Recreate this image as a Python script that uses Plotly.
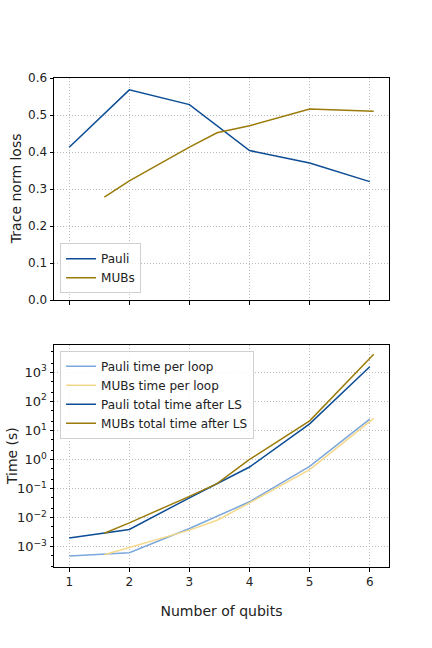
import plotly.graph_objects as go
from plotly.subplots import make_subplots

# x = log2(dimension)
pauli_x = [1, 1.585, 2, 3, 3.459, 4, 5, 6]
mubs_x = [1.585, 2, 3, 3.459, 4, 5, 6.066]

pauli_loss = [0.413, 0.504, 0.568, 0.528, 0.472, 0.404, 0.370, 0.320]
mubs_loss = [0.278, 0.322, 0.413, 0.452, 0.471, 0.516, 0.510]

pauli_loop = [4.8e-4, 5.5e-4, 6.2e-4, 4.2e-3, 1.12e-2, 3.5e-2, 0.58, 24.5]
mubs_loop = [5.3e-4, 9.3e-4, 3.7e-3, 8.1e-3, 3.2e-2, 0.45, 26]
pauli_total = [1.97e-3, 2.9e-3, 3.9e-3, 4.8e-2, 0.145, 0.55, 16.9, 1550]
mubs_total = [2.9e-3, 6.6e-3, 5.4e-2, 0.148, 1.0, 21.4, 4200]

time_tickvals = [1e-3, 1e-2, 1e-1, 1, 10, 100, 1000]
time_ticktext = ["10<sup>−3</sup>", "10<sup>−2</sup>", "10<sup>−1</sup>", "10<sup>0</sup>",
                 "10<sup>1</sup>", "10<sup>2</sup>", "10<sup>3</sup>"]

C_PAULI = "#0b4c94"
C_MUBS = "#9a7b0a"
C_PAULI_L = "#7ba7dc"
C_MUBS_L = "#f4d88a"

fig = make_subplots(rows=2, cols=1, shared_xaxes=False, vertical_spacing=0.092)

fig.add_trace(go.Scatter(x=pauli_x, y=pauli_loss, mode="lines", name="Pauli",
                         line=dict(color=C_PAULI, width=1.5)), row=1, col=1)
fig.add_trace(go.Scatter(x=mubs_x, y=mubs_loss, mode="lines", name="MUBs",
                         line=dict(color=C_MUBS, width=1.5)), row=1, col=1)

fig.add_trace(go.Scatter(x=pauli_x, y=pauli_loop, mode="lines", name="Pauli time per loop",
                         line=dict(color=C_PAULI_L, width=1.5), legend="legend2"), row=2, col=1)
fig.add_trace(go.Scatter(x=mubs_x, y=mubs_loop, mode="lines", name="MUBs time per loop",
                         line=dict(color=C_MUBS_L, width=1.5), legend="legend2"), row=2, col=1)
fig.add_trace(go.Scatter(x=pauli_x, y=pauli_total, mode="lines", name="Pauli total time after LS",
                         line=dict(color=C_PAULI, width=1.5), legend="legend2"), row=2, col=1)
fig.add_trace(go.Scatter(x=mubs_x, y=mubs_total, mode="lines", name="MUBs total time after LS",
                         line=dict(color=C_MUBS, width=1.5), legend="legend2"), row=2, col=1)

axis_style = dict(showline=True, linecolor="black", linewidth=1, mirror=True,
                  ticks="outside", ticklen=3.5, tickcolor="black", automargin=False,
                  showgrid=True, gridcolor="#bbbbbb", griddash="1px,2px", gridwidth=1,
                  zeroline=False, tickfont=dict(size=12, color="#222"))

fig.update_xaxes(axis_style)
fig.update_yaxes(axis_style)

fig.update_xaxes(range=[0.747, 6.32], tickvals=[1, 2, 3, 4, 5, 6], showticklabels=False,
                 row=1, col=1)
fig.update_xaxes(range=[0.747, 6.32], tickvals=[1, 2, 3, 4, 5, 6],
                 title=dict(text="Number of qubits", font=dict(size=14, color="#222"), standoff=18),
                 row=2, col=1)
fig.update_yaxes(range=[0, 0.6], dtick=0.1, tickformat=".1f", domain=[0.546, 1],
                 row=1, col=1)
fig.update_yaxes(type="log", range=[-3.70, 3.94], tickvals=time_tickvals, ticktext=time_ticktext,
                 domain=[0, 0.454], tickfont=dict(size=13, color="#222"),
                 minor=dict(ticks="outside", ticklen=2, tickcolor="black", showgrid=False),
                 row=2, col=1)

# y-axis titles placed as annotations to match the reference spacing
fig.add_annotation(text="Trace norm loss", xref="paper", yref="paper", x=-0.113, y=0.773,
                   textangle=-90, showarrow=False, xanchor="center", yanchor="middle",
                   font=dict(size=14, color="#222"))
fig.add_annotation(text="Time (s)", xref="paper", yref="paper", x=-0.125, y=0.227,
                   textangle=-90, showarrow=False, xanchor="center", yanchor="middle",
                   font=dict(size=14, color="#222"))

fig.update_layout(
    width=432, height=648,
    margin=dict(l=54, r=43, t=78, b=81),
    paper_bgcolor="white", plot_bgcolor="white",
    font=dict(family="DejaVu Sans", color="#222"),
    legend=dict(x=0.018, y=0.56, xanchor="left", yanchor="bottom",
                bgcolor="rgba(255,255,255,0.85)", bordercolor="#d0d0d0", borderwidth=1,
                font=dict(size=12), itemwidth=30, tracegroupgap=0),
    legend2=dict(x=0.018, y=0.442, xanchor="left", yanchor="top",
                 bgcolor="rgba(255,255,255,0.85)", bordercolor="#d0d0d0", borderwidth=1,
                 font=dict(size=12), itemwidth=30, tracegroupgap=0),
)

fig.write_html("out.html", config={"displayModeBar": False},
               post_script="document.body.style.margin='0';")
